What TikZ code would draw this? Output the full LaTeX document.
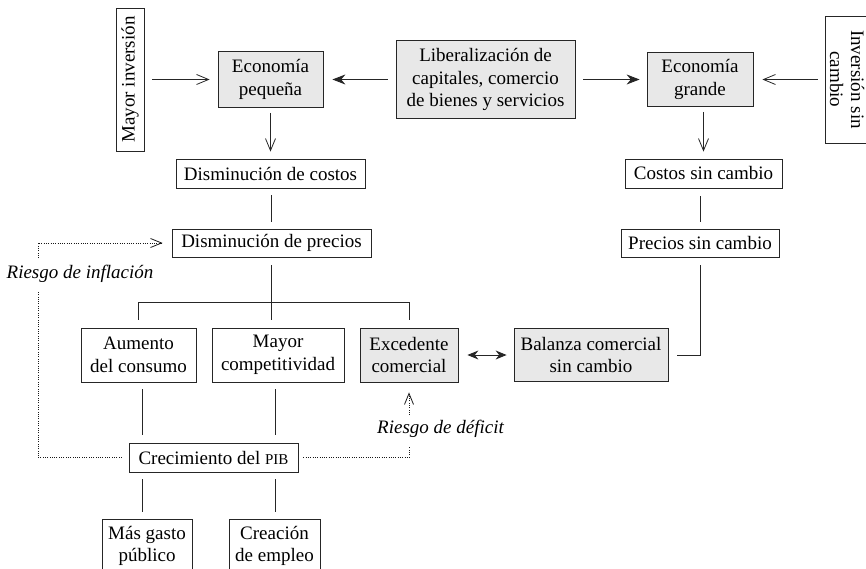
\documentclass[tikz,border=0pt]{standalone}
\usepackage{fontspec}
\setmainfont{Liberation Serif}
\usetikzlibrary{arrows.meta}
\begin{document}
\begin{tikzpicture}[x=1pt,y=-1pt,
  box/.style={draw=black!85, line width=0.8pt, inner sep=0pt, align=center,
    font=\fontsize{19}{22.5}\selectfont},
  gbox/.style={box, fill=black!9},
  conn/.style={line width=0.9pt, draw=black!85},
  oarr/.style={conn, -{Straight Barb[length=12pt,width=10pt,line width=0.8pt]}},
  farr/.style={conn, -{Stealth[length=13pt,width=10pt]}},
  dots/.style={line width=0.9pt, dash pattern=on 0.8pt off 1.5pt, draw=black!90},
  lbl/.style={font=\fontsize{19}{22.5}\selectfont\itshape, inner sep=0pt}]
\useasboundingbox (0,0) rectangle (866,569);
\clip (0,0) rectangle (866,569);

% top row
\node[box, rotate=90, minimum width=143pt, minimum height=28pt] (mayor) at (130,79.5) {Mayor inversión};
\node[gbox, minimum width=105pt, minimum height=56pt] (peq) at (270.5,79.5) {Economía\\pequeña};
\node[gbox, minimum width=179pt, minimum height=78pt] (lib) at (485.5,79.5) {Liberalización de\\capitales, comercio\\de bienes y servicios};
\node[gbox, minimum width=106pt, minimum height=54pt] (grande) at (700,79.5) {Economía\\grande};
\node[box, rotate=-90, minimum width=127pt, minimum height=44pt, font=\fontsize{19}{21}\selectfont] (invsin) at (847,79.5) {Inversión sin\\cambio};

% second / third rows
\node[box, minimum width=189pt, minimum height=29pt] (dcost) at (270.5,173.5) {Disminución de costos};
\node[box, minimum width=199pt, minimum height=28pt] (dprec) at (271.5,243) {Disminución de precios};
\node[box, minimum width=157pt, minimum height=29pt] (csin) at (703.5,173.5) {Costos sin cambio};
\node[box, minimum width=158pt, minimum height=28pt] (psin) at (700,243) {Precios sin cambio};

% fourth row
\node[box, minimum width=115pt, minimum height=54pt] (aum) at (138.5,355) {Aumento\\del consumo};
\node[box, minimum width=132pt, minimum height=54pt] (comp) at (278,355) {Mayor\\competitividad};
\node[gbox, minimum width=98pt, minimum height=54pt] (exc) at (409,355) {Excedente\\comercial};
\node[gbox, minimum width=154pt, minimum height=53pt] (bal) at (591,355) {Balanza comercial\\sin cambio};

% lower rows
\node[box, minimum width=169pt, minimum height=29pt] (pib) at (213.5,457.5) {Crecimiento del {\fontsize{15}{15}\selectfont PIB}};
\node[box, minimum width=90pt, minimum height=54pt] (gasto) at (147,546) {Más gasto\\público};
\node[box, minimum width=91pt, minimum height=54pt] (empleo) at (274.5,546) {Creación\\de empleo};

% labels
\node[lbl] (rinf) at (80,274) {Riesgo de inflación};
\node[lbl] (rdef) at (440.5,429) {Riesgo de déficit};

% helper coordinates
\coordinate (bus) at (271.5,302);
\coordinate (L) at (142,0);
\coordinate (M) at (275,0);
\coordinate (dlb) at (38,292);
\coordinate (dlt) at (38,258);
\coordinate (drb) at (409,447);
\coordinate (drt) at (409,415);

% top connectors
\draw[oarr, shorten <=8pt, shorten >=8pt] (mayor) -- (peq);
\draw[farr, shorten <=8pt, shorten >=9pt] (lib) -- (peq);
\draw[farr, shorten <=8pt, shorten >=7pt] (lib) -- (grande);
\draw[oarr, shorten <=7pt, shorten >=9pt] (invsin) -- (grande);
\draw[oarr, shorten <=5pt, shorten >=7pt] (peq.south) -- (peq.south |- dcost.north);
\draw[oarr, shorten <=5pt, shorten >=7pt] (csin.north |- grande.south) -- (csin.north);

\draw[conn, shorten <=7pt, shorten >=7pt] (dprec.north |- dcost.south) -- (dprec.north);
\draw[conn, shorten <=8pt, shorten >=7pt] (psin.north |- csin.south) -- (psin.north);

% tree below Disminucion de precios
\draw[conn, shorten <=8pt, shorten >=8pt] (dprec.south) -- (dprec.south |- comp.north);
\draw[conn] (aum.north |- bus) -- (exc.north |- bus);
\draw[conn, shorten >=8pt] (aum.north |- bus) -- (aum.north);
\draw[conn, shorten >=8pt] (exc.north |- bus) -- (exc.north);

% right branch
\draw[conn, shorten <=8pt, shorten >=9pt] (psin.south) |- (bal.east);
\draw[conn, {Stealth[length=11pt,width=9pt]}-{Stealth[length=11pt,width=9pt]}, shorten <=9pt, shorten >=7pt] (exc) -- (bal);

% to/from PIB
\draw[conn, shorten <=7pt, shorten >=8pt] (L |- aum.south) -- (L |- pib.north);
\draw[conn, shorten <=7pt, shorten >=8pt] (M |- comp.south) -- (M |- pib.north);
\draw[conn, shorten <=7pt, shorten >=7pt] (L |- pib.south) -- (L |- gasto.north);
\draw[conn, shorten <=7pt, shorten >=7pt] (M |- pib.south) -- (M |- empleo.north);

% dotted risk paths
\draw[dots, shorten <=7pt] (pib.west) -| (dlb);
\draw[dots, -{Straight Barb[length=11pt,width=9pt,line width=0.8pt]}, shorten >=9pt] (dlt) |- (dprec.west);
\draw[dots, shorten <=5pt] (pib.east) -| (drb);
\draw[dots, -{Straight Barb[length=11pt,width=9pt,line width=0.8pt]}, shorten >=10pt] (drt) -- (drt |- exc.south);
\end{tikzpicture}
\end{document}
